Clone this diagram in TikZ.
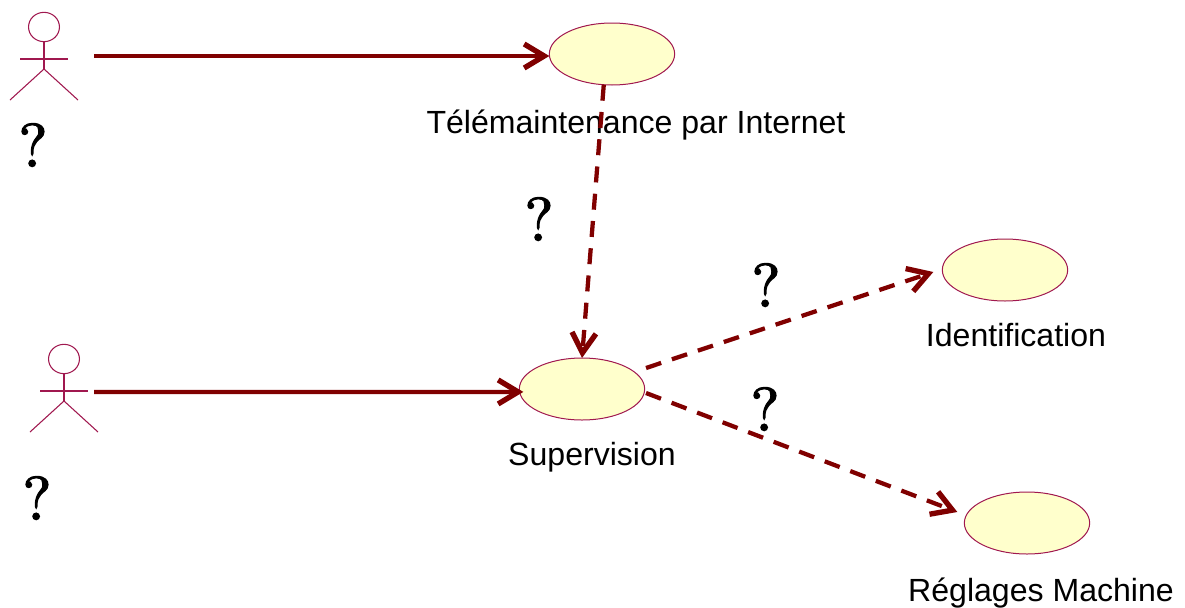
\documentclass[tikz,border=0pt]{standalone}
\usepackage{fontspec}
\setmainfont{Liberation Sans}
\newfontfamily\qfont[FakeBold=2]{lmroman10-regular.otf}
\usetikzlibrary{arrows.meta,shapes.geometric}
\definecolor{umlline}{HTML}{800000}
\definecolor{umledge}{HTML}{A0184F}
\definecolor{umlfill}{HTML}{FFFFCC}
\tikzset{
  usecase/.style={ellipse,draw=umledge,fill=umlfill,line width=0.75pt,inner sep=0pt,outer sep=0pt,minimum width=94pt,minimum height=46.5pt},
  actorline/.style={draw=umledge,line width=0.8pt},
  lbl/.style={anchor=base,inner sep=0pt,font=\fontsize{24.05pt}{28pt}\selectfont},
  qmark/.style={inner sep=0pt,font=\qfont\fontsize{46pt}{50pt}\selectfont},
  tipbarb/.tip={Straight Barb[length=15pt,width=18pt,line width=4pt]},
  assoc/.style={draw=umlline,line width=3.2pt,-{tipbarb}},
  dep/.style={assoc,dash pattern=on 12pt off 8.5pt},
}
\newcommand{\stickman}[2]{%
  \draw[actorline] (#1,#2-32) ellipse [x radius=11.6pt,y radius=11pt];
  \draw[actorline] (#1,#2-17) -- (#1,#2+10);
  \draw[actorline] (#1-24,#2) -- (#1+24,#2);
  \draw[actorline] (#1-34,#2+41) -- (#1,#2+10) -- (#1+34,#2+41);
}
\begin{document}
\begin{tikzpicture}[x=0.75pt,y=-0.75pt]
\useasboundingbox (0,0) rectangle (1185,607);
\stickman{44}{59}
\stickman{64}{391}
\coordinate (a1) at (94,56);
\coordinate (a2) at (94,392);
\node[usecase] (uc1) at (612,54) {};
\node[usecase] (uc2) at (582,389) {};
\node[usecase] (uc3) at (1005,270) {};
\node[usecase] (uc4) at (1027,523) {};
\node[lbl] (t1) at (636,133) {Télémaintenance par Internet};
\node[lbl] (t2) at (592,465) {Supervision};
\node[lbl] (t3) at (1016,346) {Identification};
\node[lbl] (t4) at (1041,601) {Réglages Machine};
\node[qmark] (q1) at (33,145) {?};
\node[qmark] (q2) at (539,219) {?};
\node[qmark] (q3) at (766,285) {?};
\node[qmark] (q4) at (765,409) {?};
\node[qmark] (q5) at (37,498) {?};
\draw[assoc] (a1) -- ([yshift=-1.5pt]uc1.west);
\draw[assoc] (a2) -- ([xshift=3pt,yshift=-2.2pt]uc2.west);
\draw[dep] (uc1.255) -- (uc2.north);
\draw[dep] ([xshift=1pt,yshift=15.75pt]uc2.east) -- ([xshift=-6.75pt,yshift=-1.5pt]uc3.west);
\draw[dep] ([xshift=1pt,yshift=-3pt]uc2.east) -- ([xshift=-5.25pt,yshift=8.25pt]uc4.west);
\end{tikzpicture}
\end{document}
